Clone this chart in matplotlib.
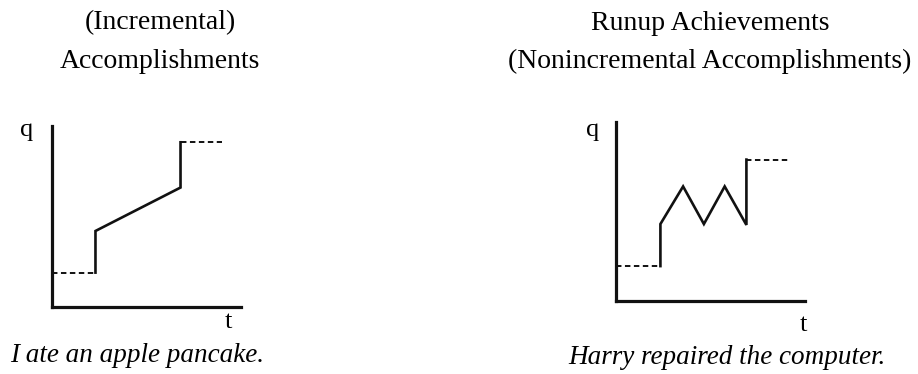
import matplotlib.pyplot as plt

plt.rcParams['font.family'] = ['Liberation Serif', 'DejaVu Serif']

# incremental accomplishment: flat start, jump, steady climb, jump, flat end
inc_pre_t = [0, 2.3]
inc_pre_q = [1.9, 1.9]
inc_t = [2.3, 2.3, 6.8, 6.8]
inc_q = [1.9, 4.2, 6.6, 9.1]
inc_post_t = [6.8, 9.0]
inc_post_q = [9.1, 9.1]

# runup achievement: jump, back-and-forth progress, final jump
run_pre_t = [0, 2.35]
run_pre_q = [1.95, 1.95]
run_t = [2.35, 2.35, 3.55, 4.65, 5.75, 6.9, 6.9]
run_q = [1.95, 4.3, 6.4, 4.3, 6.4, 4.25, 7.9]
run_post_t = [6.9, 9.15]
run_post_q = [7.9, 7.9]

W, H = 918, 374
fig = plt.figure(figsize=(W / 100, H / 100), dpi=100)


def panel(x0, x1, ytop, ybot, pre, solid, post):
    ax = fig.add_axes([x0 / W, (H - ybot) / H, (x1 - x0) / W, (ybot - ytop) / H])
    ax.set_xlim(0, 10)
    ax.set_ylim(0, 10)
    for s in ['top', 'right']:
        ax.spines[s].set_visible(False)
    for s in ['left', 'bottom']:
        ax.spines[s].set_linewidth(2.3)
        ax.spines[s].set_color('#111111')
    ax.set_xticks([])
    ax.set_yticks([])
    ax.patch.set_alpha(0)
    ax.plot(*pre, color='#111111', lw=1.4, dashes=(2.8, 1.8), clip_on=False)
    ax.plot(*solid, color='#111111', lw=1.9, solid_joinstyle='miter', clip_on=False)
    ax.plot(*post, color='#111111', lw=1.4, dashes=(2.8, 1.8), clip_on=False)
    return ax


ax1 = panel(52, 241, 126, 307, (inc_pre_t, inc_pre_q), (inc_t, inc_q), (inc_post_t, inc_post_q))
ax2 = panel(616, 805, 122, 301, (run_pre_t, run_pre_q), (run_t, run_q), (run_post_t, run_post_q))

fs = 20
fs_axis = 19
fs_cap = 19.5
fig.text(27 / W, 1 - 130 / H, 'q', fontsize=fs_axis, ha='center', va='center')
fig.text(228 / W, 1 - 322 / H, 't', fontsize=fs_axis, ha='center', va='center')
fig.text(593 / W, 1 - 130 / H, 'q', fontsize=fs_axis, ha='center', va='center')
fig.text(803 / W, 1 - 325 / H, 't', fontsize=fs_axis, ha='center', va='center')

fig.text(160 / W, 1 - 23 / H, '(Incremental)', fontsize=fs, ha='center', va='center')
fig.text(160 / W, 1 - 61 / H, 'Accomplishments', fontsize=fs, ha='center', va='center')
fig.text(710 / W, 1 - 23 / H, 'Runup Achievements', fontsize=fs, ha='center', va='center')
fig.text(710 / W, 1 - 61 / H, '(Nonincremental Accomplishments)', fontsize=fs, ha='center', va='center')

fig.text(137 / W, 1 - 355 / H, 'I ate an apple pancake.', fontsize=fs_cap, style='italic', ha='center', va='center')
fig.text(727 / W, 1 - 357 / H, 'Harry repaired the computer.', fontsize=fs_cap, style='italic', ha='center', va='center')

fig.savefig('out.png', dpi=100)
